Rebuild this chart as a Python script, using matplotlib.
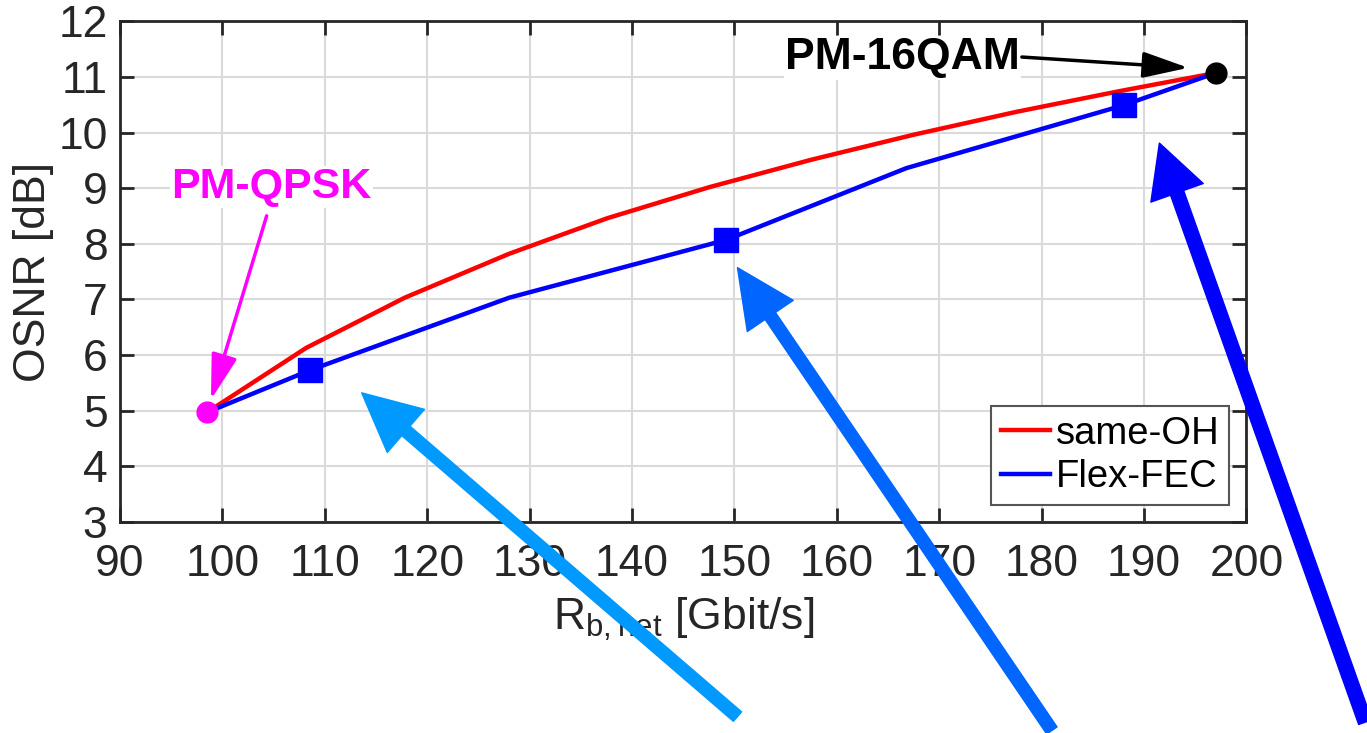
import matplotlib
matplotlib.use("Agg")
import matplotlib.pyplot as plt

plt.rcParams['font.family'] = ['Liberation Sans', 'DejaVu Sans']

# same-OH curve
rate_same = [98.5, 108.2, 117.8, 128.0, 137.6, 147.6, 157.5, 167.5, 177.5, 187.5, 197.0]
osnr_same = [4.97, 6.13, 7.03, 7.82, 8.46, 9.02, 9.51, 9.96, 10.37, 10.74, 11.07]

# Flex-FEC curve
rate_flex = [98.5, 108.6, 128.0, 149.2, 166.8, 188.0, 197.0]
osnr_flex = [4.97, 5.73, 7.03, 8.07, 9.36, 10.49, 11.07]

# Flex-FEC operating points (squares)
rate_sq = [108.6, 149.2, 188.0]
osnr_sq = [5.73, 8.07, 10.49]

qpsk = (98.5, 4.97)
qam16 = (197.0, 11.07)

fig = plt.figure(figsize=(13.67, 7.33), dpi=100)
ax = fig.add_axes([0.0878, 0.288, 0.824, 0.683])

ax.plot(rate_same, osnr_same, color='#FF0000', lw=3.2, label='same-OH', zorder=3)
ax.plot(rate_flex, osnr_flex, color='#0000FF', lw=3.2, label='Flex-FEC', zorder=3)
ax.plot(rate_sq, osnr_sq, 's', color='#0000FF', ms=17, zorder=4)
ax.plot(qpsk[0], qpsk[1], 'o', color='#FF00FF', ms=15, zorder=5)
ax.plot(qam16[0], qam16[1], 'o', color='black', ms=15, zorder=5)

ax.set_xlim(90, 200)
ax.set_ylim(3, 12)
ax.set_xticks(range(90, 201, 10))
ax.set_yticks(range(3, 13))
ax.grid(True, color='#dadada', lw=1.5)
ax.set_axisbelow(True)
ax.tick_params(direction='in', length=10, width=2, labelsize=32, colors='#262626',
               top=True, right=True)
ax.tick_params(axis='x', pad=16)
ax.tick_params(axis='y', pad=9)
for s in ax.spines.values():
    s.set_linewidth(2)
    s.set_color('#262626')

ax.set_xlabel(r'$\mathregular{R_{b,net}}$ [Gbit/s]', fontsize=32, color='#262626', labelpad=8)
ax.set_ylabel('OSNR [dB]', fontsize=32, color='#262626', labelpad=3)

leg = ax.legend(loc='lower right', fontsize=27.5, handlelength=1.3, handletextpad=0.15,
                borderpad=0.25, labelspacing=0.2, fancybox=False, framealpha=1,
                borderaxespad=0.45)
leg.get_frame().set_edgecolor('#555555')
leg.get_frame().set_linewidth(1.5)

# labels with small arrows
ax.text(104.8, 9.02, 'PM-QPSK', color='#FF00FF', fontsize=31, fontweight='bold',
        ha='center', va='center',
        bbox=dict(facecolor='white', edgecolor='none', pad=1))
ax.annotate('', xy=(98.8, 5.15), xytext=(104.4, 8.55),
            arrowprops=dict(arrowstyle='-|>,head_length=1.4,head_width=0.4',
                            color='#FF00FF', lw=2.5, mutation_scale=20))
ax.text(166.4, 11.34, 'PM-16QAM', color='black', fontsize=32, fontweight='bold',
        ha='center', va='center',
        bbox=dict(facecolor='white', edgecolor='none', pad=1))
ax.annotate('', xy=(194.6, 11.16), xytext=(177.8, 11.36),
            arrowprops=dict(arrowstyle='-|>,head_length=1.4,head_width=0.4',
                            color='black', lw=2.5, mutation_scale=20))

# big arrows pointing at the Flex-FEC points
ax.annotate('', xy=(113.6, 5.32), xytext=(150.3, -0.5), annotation_clip=False,
            arrowprops=dict(width=9, headwidth=41, headlength=42, color='#0099FF', shrink=0))
ax.annotate('', xy=(150.3, 7.57), xytext=(181.0, -0.75), annotation_clip=False,
            arrowprops=dict(width=9, headwidth=40, headlength=42, color='#0066FF', shrink=0))
ax.annotate('', xy=(191.5, 9.81), xytext=(211.6, -0.6), annotation_clip=False,
            arrowprops=dict(width=10, headwidth=40, headlength=38, color='#0000FF', shrink=0))

fig.savefig('out.png', dpi=100)
